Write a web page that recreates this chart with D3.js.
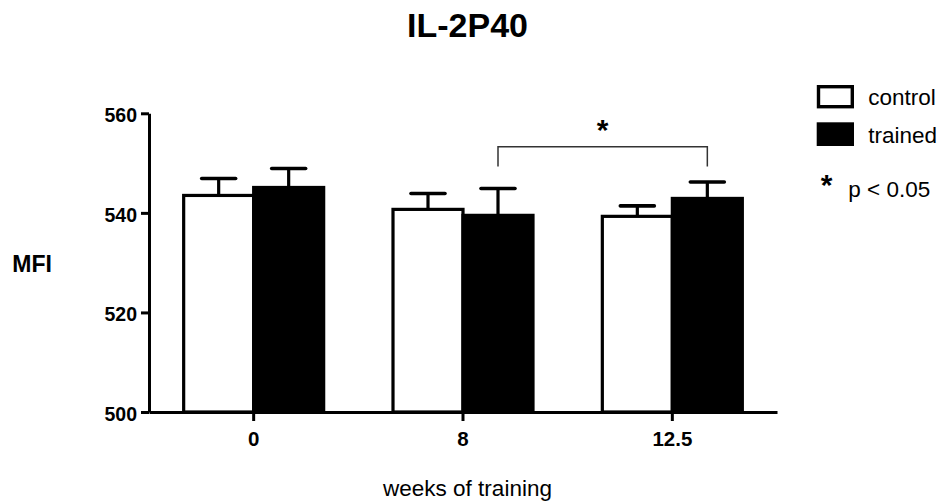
<!DOCTYPE html>
<html>
<head>
<meta charset="utf-8">
<script src="https://cdn.jsdelivr.net/npm/d3@7"></script>
<style>
  html, body { margin: 0; padding: 0; background: #fff; }
  svg { display: block; font-family: "Liberation Sans", Arial, sans-serif; }
</style>
</head>
<body>
<svg id="chart" width="946" height="504"></svg>
<script>
// Groups on the x axis (weeks of training)
const categories = ["0", "8", "12.5"];
const seriesNames = ["control", "trained"];
// Mean MFI and upper SEM for each group
const controlMean = [543.5, 540.7, 539.3];
const controlSem  = [3.4, 3.2, 2.1];
const trainedMean = [545.1, 539.5, 542.9];
const trainedSem  = [3.8, 5.4, 3.3];
const yTicks = [500, 520, 540, 560];
// Significance bracket between two trained bars (in MFI units)
const bracketFrom = "8";
const bracketTo = "12.5";
const bracketTop = 553.3;
const bracketLeg = 4;

const rows = categories.map((c, i) => ({
  cat: c,
  values: [
    { key: "control", mean: controlMean[i], sem: controlSem[i] },
    { key: "trained", mean: trainedMean[i], sem: trainedSem[i] }
  ]
}));

const svg = d3.select("#chart");
const plot = { left: 149, right: 777, top: 113.3, bottom: 412 };

const x0 = d3.scaleBand().domain(categories).range([plot.left, plot.right]).padding(0);
const barWidth = 70;
const x1 = d3.scaleBand().domain(seriesNames).range([-barWidth, barWidth]);
const y = d3.scaleLinear().domain([500, 560]).range([plot.bottom, plot.top]);
const cx = c => x0(c) + x0.bandwidth() / 2;

// Title
svg.append("text")
  .attr("x", 467.5).attr("y", 36.7)
  .attr("text-anchor", "middle")
  .style("font-weight", "bold").style("font-size", "34px")
  .text("IL-2P40");

// Bars
const groups = svg.append("g").selectAll("g").data(rows).join("g")
  .attr("transform", d => `translate(${cx(d.cat)},0)`);

groups.selectAll("line.stem").data(d => d.values).join("line")
  .attr("class", "stem")
  .attr("x1", d => x1(d.key) + x1.bandwidth() / 2)
  .attr("x2", d => x1(d.key) + x1.bandwidth() / 2)
  .attr("y1", d => y(d.mean))
  .attr("y2", d => y(d.mean + d.sem))
  .attr("stroke", "#000").attr("stroke-width", 3.2);

groups.selectAll("line.cap").data(d => d.values).join("line")
  .attr("class", "cap")
  .attr("x1", d => x1(d.key) + x1.bandwidth() / 2 - 17)
  .attr("x2", d => x1(d.key) + x1.bandwidth() / 2 + 17)
  .attr("y1", d => y(d.mean + d.sem))
  .attr("y2", d => y(d.mean + d.sem))
  .attr("stroke", "#000").attr("stroke-width", 3.6)
  .attr("stroke-linecap", "round");

groups.selectAll("rect").data(d => d.values).join("rect")
  .attr("x", d => x1(d.key))
  .attr("width", x1.bandwidth())
  .attr("y", d => y(d.mean))
  .attr("height", d => y(500) - y(d.mean))
  .attr("fill", d => d.key === "control" ? "#fff" : "#000")
  .attr("stroke", "#000").attr("stroke-width", 3.2);

// Axes
const yAxis = d3.axisLeft(y).tickValues(yTicks).tickSize(8).tickSizeOuter(0).tickPadding(4);
const gy = svg.append("g").attr("transform", `translate(${plot.left},0)`).call(yAxis);
gy.select(".domain").attr("stroke-width", 3);
gy.selectAll(".tick line").attr("stroke-width", 3);
gy.selectAll(".tick text")
  .attr("dy", "0.42em")
  .style("font-family", "'Liberation Sans', Arial, sans-serif")
  .style("font-weight", "bold").style("font-size", "19.5px").attr("fill", "#000");

const xAxis = d3.axisBottom(x0).tickSize(9).tickSizeOuter(0).tickPadding(10);
const gx = svg.append("g").attr("transform", `translate(0,${plot.bottom})`).call(xAxis);
gx.select(".domain").attr("stroke-width", 3);
gx.selectAll(".tick line").attr("stroke-width", 3);
gx.selectAll(".tick text")
  .style("font-family", "'Liberation Sans', Arial, sans-serif")
  .style("font-weight", "bold").style("font-size", "20.5px").attr("fill", "#000");

// Axis titles
svg.append("text")
  .attr("x", 12.3).attr("y", 272.3)
  .style("font-weight", "bold").style("font-size", "23px")
  .text("MFI");

svg.append("text")
  .attr("x", 467.5).attr("y", 496)
  .attr("text-anchor", "middle")
  .style("font-size", "22.5px")
  .text("weeks of training");

// Significance bracket
const bx1 = cx(bracketFrom) + x1("trained") + x1.bandwidth() / 2;
const bx2 = cx(bracketTo) + x1("trained") + x1.bandwidth() / 2;
svg.append("path")
  .attr("d", `M${bx1},${y(bracketTop - bracketLeg)}V${y(bracketTop)}H${bx2}V${y(bracketTop - bracketLeg)}`)
  .attr("fill", "none").attr("stroke", "#333").attr("stroke-width", 1.5);
svg.append("text")
  .attr("x", (bx1 + bx2) / 2).attr("y", 139.5)
  .attr("text-anchor", "middle")
  .style("font-weight", "bold").style("font-size", "30px")
  .text("*");

// Legend
const legend = svg.append("g");
legend.append("rect")
  .attr("x", 818.5).attr("y", 86.7).attr("width", 33.8).attr("height", 20)
  .attr("fill", "#fff").attr("stroke", "#000").attr("stroke-width", 3.4);
legend.append("rect")
  .attr("x", 816.7).attr("y", 122.3).attr("width", 37.3).attr("height", 23.7)
  .attr("fill", "#000");
legend.append("text").attr("x", 868.3).attr("y", 105)
  .style("font-size", "22.5px").text(seriesNames[0]);
legend.append("text").attr("x", 868.3).attr("y", 143)
  .style("font-size", "22.5px").text(seriesNames[1]);
legend.append("text").attr("x", 826.7).attr("y", 194.5)
  .attr("text-anchor", "middle")
  .style("font-weight", "bold").style("font-size", "30px").text("*");
legend.append("text").attr("x", 848.3).attr("y", 197.3)
  .style("font-size", "22.5px").text("p < 0.05");
</script>
</body>
</html>
